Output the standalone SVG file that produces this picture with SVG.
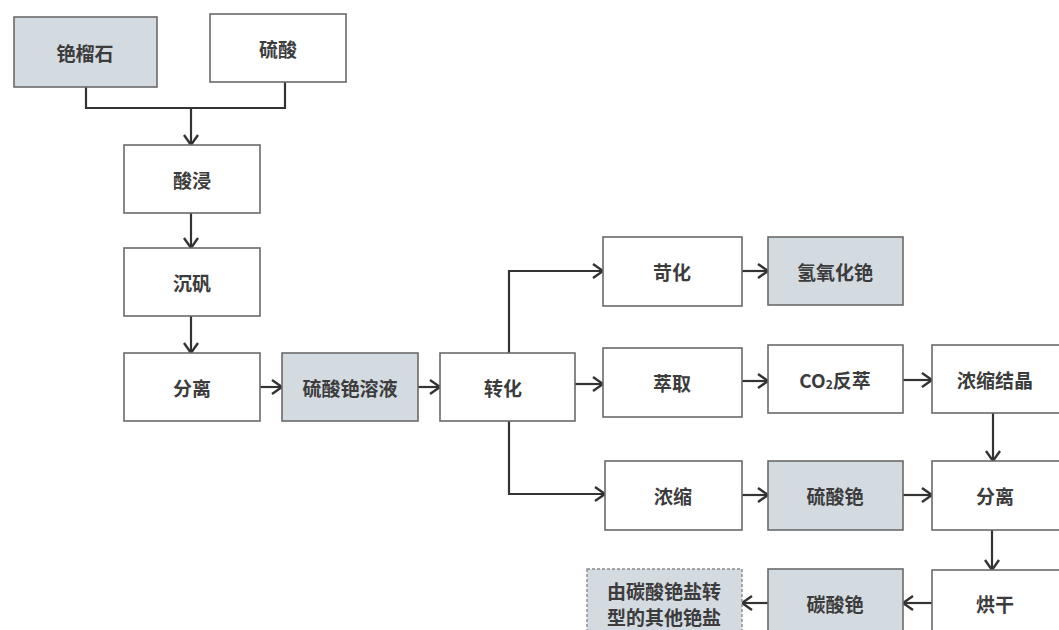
<svg xmlns="http://www.w3.org/2000/svg" width="1059" height="630" viewBox="0 0 1059 630">
<defs>
<style>
.b{fill:#ffffff;stroke:#6a6a6a;stroke-width:1.6}
.g{fill:#d3dbe1;stroke:#6a6a6a;stroke-width:1.6}
.d{fill:#d3dbe1;stroke:#8a8a8a;stroke-width:1.4;stroke-dasharray:3 2}
text{font-family:"Noto Sans CJK SC","Noto Sans",sans-serif;font-size:19px;font-weight:bold;fill:#3c3c3c;text-anchor:middle;dominant-baseline:central}
.c path{fill:none;stroke:#333;stroke-width:2.2}
</style>
<marker id="ar" markerUnits="userSpaceOnUse" markerWidth="16" markerHeight="18" refX="12" refY="9" orient="auto" viewBox="0 0 16 18">
<path d="M2,2 L12,9 L2,16" fill="none" stroke="#333" stroke-width="2.4"/>
</marker>
</defs>
<rect width="1059" height="630" fill="#ffffff"/>
<g class="c" id="connectors">
<path d="M86,87 V108 H285 V82"/>
<path d="M191,108 V145" marker-end="url(#ar)"/>
<path d="M191,213 V248" marker-end="url(#ar)"/>
<path d="M191,316 V353" marker-end="url(#ar)"/>
<path d="M260,387 H282" marker-end="url(#ar)"/>
<path d="M418,387 H440" marker-end="url(#ar)"/>
<path d="M509,353 V271 H603" marker-end="url(#ar)"/>
<path d="M575,384 H603" marker-end="url(#ar)"/>
<path d="M509,421 V494 H605" marker-end="url(#ar)"/>
<path d="M742,271 H768" marker-end="url(#ar)"/>
<path d="M742,381 H768" marker-end="url(#ar)"/>
<path d="M903,380 H932" marker-end="url(#ar)"/>
<path d="M742,495 H768" marker-end="url(#ar)"/>
<path d="M903,495 H932" marker-end="url(#ar)"/>
<path d="M993,413 V461" marker-end="url(#ar)"/>
<path d="M992,530 V570" marker-end="url(#ar)"/>
<path d="M932,603 H903" marker-end="url(#ar)"/>
<path d="M768,603 H742" marker-end="url(#ar)"/>
</g>
<g id="n1"><rect class="g" x="14" y="17" width="143" height="70"/><text x="85" y="52">铯榴石</text></g>
<g id="n2"><rect class="b" x="210" y="14" width="136" height="68"/><text x="278" y="48">硫酸</text></g>
<g id="n3"><rect class="b" x="124" y="145" width="136" height="68"/><text x="192" y="179">酸浸</text></g>
<g id="n4"><rect class="b" x="124" y="248" width="136" height="68"/><text x="192" y="282">沉矾</text></g>
<g id="n5"><rect class="b" x="124" y="353" width="136" height="68"/><text x="192" y="387">分离</text></g>
<g id="n6"><rect class="g" x="282" y="353" width="136" height="68"/><text x="350" y="387">硫酸铯溶液</text></g>
<g id="n7"><rect class="b" x="440" y="353" width="135" height="68"/><text x="503" y="387">转化</text></g>
<g id="n8"><rect class="b" x="603" y="237" width="139" height="69"/><text x="672" y="271">苛化</text></g>
<g id="n9"><rect class="g" x="768" y="237" width="135" height="68"/><text x="835" y="271">氢氧化铯</text></g>
<g id="n10"><rect class="b" x="603" y="348" width="139" height="69"/><text x="672" y="382">萃取</text></g>
<g id="n11"><rect class="b" x="768" y="345" width="135" height="68"/><text x="835" y="379">CO<tspan font-size="12" dy="4">2</tspan><tspan dy="-4">反萃</tspan></text></g>
<g id="n12"><rect class="b" x="932" y="345" width="135" height="68"/><text x="995" y="379">浓缩结晶</text></g>
<g id="n13"><rect class="b" x="605" y="461" width="137" height="69"/><text x="673" y="495">浓缩</text></g>
<g id="n14"><rect class="g" x="768" y="461" width="135" height="69"/><text x="835" y="495">硫酸铯</text></g>
<g id="n15"><rect class="b" x="932" y="461" width="135" height="69"/><text x="995" y="495">分离</text></g>
<g id="n16"><rect class="b" x="932" y="570" width="135" height="68"/><text x="995" y="603">烘干</text></g>
<g id="n17"><rect class="g" x="768" y="569" width="135" height="69"/><text x="835" y="603">碳酸铯</text></g>
<g id="n18"><rect class="d" x="587" y="569" width="155" height="69"/><text x="664" y="590">由碳酸铯盐转</text><text x="664" y="616">型的其他铯盐</text></g>
</svg>
